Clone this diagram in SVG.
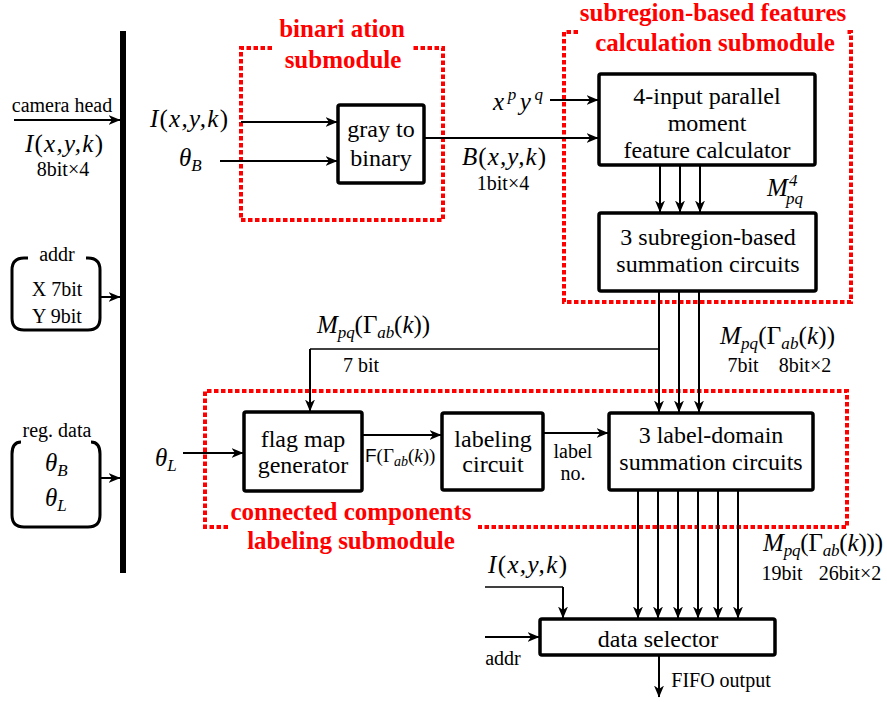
<svg xmlns="http://www.w3.org/2000/svg" width="887" height="702" viewBox="0 0 887 702">
<style>
.t{font-family:"Liberation Serif",serif;font-size:24px;text-anchor:middle;fill:#000}
.s{font-family:"Liberation Serif",serif;font-size:20px;text-anchor:middle;fill:#000}
.m{font-family:"Liberation Serif",serif;font-style:italic;font-size:25px;fill:#000}
.u{font-style:normal}
.sb{font-size:17px}
.r{font-family:"Liberation Serif",serif;font-weight:bold;font-size:25px;text-anchor:middle;fill:#f00}
.box{fill:#fff;stroke:#000;stroke-width:3.5}
.dot{fill:none;stroke:#f00;stroke-width:4;stroke-dasharray:4.5 2.5}
.ln{fill:none;stroke:#000;stroke-width:2}
.thin{fill:none;stroke:#000;stroke-width:1.4}
.br{fill:none;stroke:#000;stroke-width:3}
</style>
<defs>
<marker id="a" viewBox="0 0 12 12" refX="11.5" refY="6" markerWidth="12" markerHeight="12" markerUnits="userSpaceOnUse" orient="auto">
<path d="M0,1 L12,6 L0,11 L3.5,6 z" fill="#000"/>
</marker>
</defs>

<g id="bus"><rect x="120" y="31" width="6" height="542" fill="#000"/></g>

<g id="camera">
<text class="s" x="62" y="112">camera head</text>
<text class="m" x="25" y="152" textLength="78" lengthAdjust="spacing">I<tspan class="u">(</tspan>x,y,k<tspan class="u">)</tspan></text>
<text class="s" x="63" y="176" font-size="19">8bit×4</text>
</g>

<g id="addr">
<path class="br" d="M28,258 H24 Q12,258 12,270 V318 Q12,330 24,330 H88 Q100,330 100,318 V270 Q100,258 88,258 H86"/>
<text class="s" x="57" y="261">addr</text>
<text class="s" x="57" y="296" font-size="22">X 7bit</text>
<text class="s" x="57" y="323" font-size="22">Y 9bit</text>
</g>

<g id="regdata">
<path class="br" d="M21,442 Q12,442 12,454 V515 Q12,527 24,527 H88 Q100,527 100,515 V454 Q100,442 91,442"/>
<text class="s" x="57" y="437">reg. data</text>
<text class="m" x="45" y="471">θ<tspan class="sb" dy="5">B</tspan></text>
<text class="m" x="45" y="506">θ<tspan class="sb" dy="5">L</tspan></text>
</g>

<g id="binarization">
<path class="dot" d="M272,48 H241 V220 H443 V48 H413"/>
<text class="r" x="342" y="37">binari ation</text>
<text class="r" x="343" y="68">submodule</text>
<text class="m" x="150" y="127" textLength="78" lengthAdjust="spacing">I<tspan class="u">(</tspan>x,y,k<tspan class="u">)</tspan></text>
<text class="m" x="179" y="166">θ<tspan class="sb" dy="5">B</tspan></text>
</g>

<g id="graytobinary">
<rect class="box" x="338" y="105" width="86" height="78" rx="2"/>
<text class="t" x="381" y="137">gray to</text>
<text class="t" x="381" y="166">binary</text>
</g>

<g id="subregion">
<path class="dot" d="M578,32 H564 V302 H851 V32 H847"/>
<text class="r" x="713" y="21">subregion-based features</text>
<text class="r" x="715" y="51">calculation submodule</text>
<text class="m" x="493" y="110" textLength="50" lengthAdjust="spacing">x<tspan class="sb" dy="-10">p</tspan><tspan dy="10">y</tspan><tspan class="sb" dy="-10">q</tspan></text>
<text class="m" x="462" y="165" textLength="84" lengthAdjust="spacing">B<tspan class="u">(</tspan>x,y,k<tspan class="u">)</tspan></text>
<text class="s" x="503" y="190">1bit×4</text>
<text class="m" x="767" y="196">M</text>
<text class="m sb" x="789" y="186">4</text>
<text class="m sb" x="786" y="204">pq</text>
</g>

<g id="momentcalc">
<rect class="box" x="599" y="74" width="216" height="91" rx="2"/>
<text class="t" x="707" y="104">4-input parallel</text>
<text class="t" x="707" y="131">moment</text>
<text class="t" x="707" y="158">feature calculator</text>
</g>

<g id="subsum">
<rect class="box" x="599" y="213" width="217" height="78" rx="2"/>
<text class="t" x="708" y="245" font-size="25">3 subregion-based</text>
<text class="t" x="708" y="272" font-size="25">summation circuits</text>
</g>

<g id="mlabels">
<text class="m" x="317" y="333" textLength="113" lengthAdjust="spacing">M<tspan class="sb" dy="5">pq</tspan><tspan class="u" dy="-5">(Γ</tspan><tspan class="sb" dy="5">ab</tspan><tspan class="u" dy="-5">(</tspan>k<tspan class="u">))</tspan></text>
<text class="s" x="361" y="372">7 bit</text>
<text class="m" x="720" y="344" textLength="115" lengthAdjust="spacing">M<tspan class="sb" dy="5">pq</tspan><tspan class="u" dy="-5">(Γ</tspan><tspan class="sb" dy="5">ab</tspan><tspan class="u" dy="-5">(</tspan>k<tspan class="u">))</tspan></text>
<text class="s" x="743" y="372">7bit</text>
<text class="s" x="805" y="372">8bit×2</text>
</g>

<g id="ccl">
<path class="dot" d="M228,527 H205 V391 H847 V527 H478"/>
<text class="r" x="351" y="520">connected components</text>
<text class="r" x="351" y="549">labeling submodule</text>
<text class="m" x="155" y="466">θ<tspan class="sb" dy="5">L</tspan></text>
</g>

<g id="flagmap">
<rect class="box" x="244" y="412" width="118" height="79" rx="2"/>
<text class="t" x="303" y="447" font-size="25">flag map</text>
<text class="t" x="303" y="473" font-size="25">generator</text>
</g>

<g id="labeling">
<rect class="box" x="442" y="413" width="101" height="77" rx="2"/>
<text class="t" x="493" y="447" font-size="25">labeling</text>
<text class="t" x="493" y="472" font-size="25">circuit</text>
</g>

<g id="flabels">
<text class="m" x="365" y="462" style="font-size:19px"><tspan class="u" style="font-family:'Liberation Sans',sans-serif">F</tspan><tspan class="u">(Γ</tspan><tspan dy="4" style="font-size:14px">ab</tspan><tspan class="u" dy="-4">(</tspan>k<tspan class="u">))</tspan></text>
<text class="s" x="573" y="458" font-size="21">label</text>
<text class="s" x="573" y="480" font-size="21">no.</text>
</g>

<g id="labelsum">
<rect class="box" x="609" y="413" width="204" height="77" rx="2"/>
<text class="t" x="711" y="443" font-size="25">3 label-domain</text>
<text class="t" x="711" y="470" font-size="25">summation circuits</text>
</g>

<g id="outlabels">
<text class="m" x="763" y="551" textLength="120" lengthAdjust="spacing">M<tspan class="sb" dy="5">pq</tspan><tspan class="u" dy="-5">(Γ</tspan><tspan class="sb" dy="5">ab</tspan><tspan class="u" dy="-5">(</tspan>k<tspan class="u">)))</tspan></text>
<text class="s" x="782" y="580">19bit</text>
<text class="s" x="850" y="580">26bit×2</text>
<text class="m" x="488" y="573" textLength="79" lengthAdjust="spacing">I<tspan class="u">(</tspan>x,y,k<tspan class="u">)</tspan></text>
<text class="s" x="503" y="665">addr</text>
<text class="s" x="721" y="687" font-size="21">FIFO output</text>
</g>

<g id="dataselector">
<rect class="box" x="540" y="619" width="235" height="36" rx="2"/>
<text class="t" x="658" y="647" font-size="25">data selector</text>
</g>

<g id="connectors">
<path class="ln" d="M14,120 H120" marker-end="url(#a)"/>
<path class="ln" d="M100,297 H120" marker-end="url(#a)"/>
<path class="ln" d="M100,478 H120" marker-end="url(#a)"/>
<path class="ln" d="M241,122 H337" marker-end="url(#a)"/>
<path class="ln" d="M220,161 H337" marker-end="url(#a)"/>
<path class="ln" d="M424,138 H598" marker-end="url(#a)"/>
<path class="ln" d="M550,100 H598" marker-end="url(#a)"/>
<path class="ln" d="M660,165 V212" marker-end="url(#a)"/>
<path class="ln" d="M680,165 V212" marker-end="url(#a)"/>
<path class="ln" d="M700,165 V212" marker-end="url(#a)"/>
<path class="ln" d="M659,291 V412" marker-end="url(#a)"/>
<path class="ln" d="M679,291 V412" marker-end="url(#a)"/>
<path class="ln" d="M699,291 V412" marker-end="url(#a)"/>
<path class="thin" d="M659,349 H310"/>
<path class="ln" d="M310,349 V411" marker-end="url(#a)"/>
<path class="ln" d="M183,453 H243" marker-end="url(#a)"/>
<path class="ln" d="M362,435 H441" marker-end="url(#a)"/>
<path class="ln" d="M543,433 H608" marker-end="url(#a)"/>
<path class="ln" d="M638,490 V618" marker-end="url(#a)"/>
<path class="ln" d="M658,490 V618" marker-end="url(#a)"/>
<path class="ln" d="M678,490 V618" marker-end="url(#a)"/>
<path class="ln" d="M698,490 V618" marker-end="url(#a)"/>
<path class="ln" d="M718,490 V618" marker-end="url(#a)"/>
<path class="ln" d="M738,490 V618" marker-end="url(#a)"/>
<path class="thin" d="M485,587 H563"/>
<path class="ln" d="M563,587 V618" marker-end="url(#a)"/>
<path class="ln" d="M485,637 H539" marker-end="url(#a)"/>
<path class="ln" d="M659,655 V697" marker-end="url(#a)"/>
</g>
</svg>
